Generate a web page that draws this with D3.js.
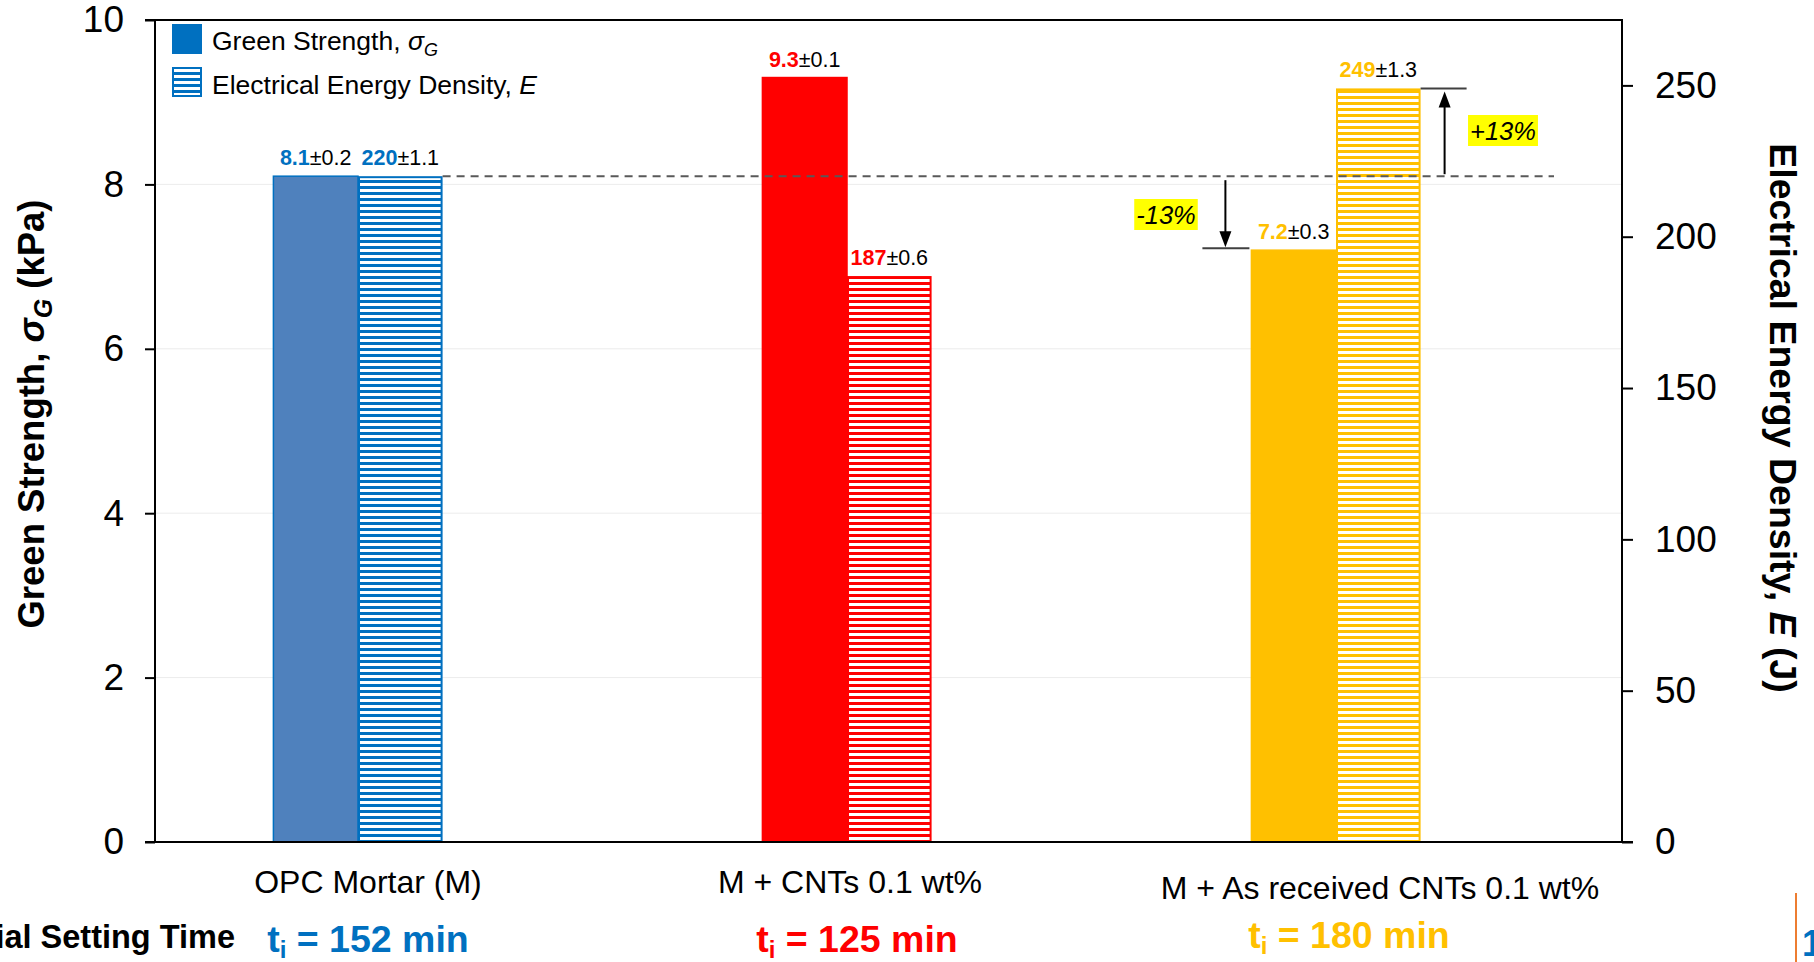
<!DOCTYPE html>
<html>
<head>
<meta charset="utf-8">
<script src="https://cdn.jsdelivr.net/npm/d3@7"></script>
<style>
  html, body { margin: 0; padding: 0; background: #fff; overflow: hidden; }
  svg { display: block; font-family: "Liberation Sans", Arial, sans-serif; }
</style>
</head>
<body>
<div id="chart"></div>
<script>
// values
const categories = ["OPC Mortar (M)", "M + CNTs 0.1 wt%", "M + As received CNTs 0.1 wt%"];
const strength = [8.1, 9.3, 7.2];
const strengthErr = [0.2, 0.1, 0.3];
const energy = [220, 187, 249];
const energyErr = [1.1, 0.6, 1.3];
const settingTime = [152, 125, 180];
const leftTicks = [0, 2, 4, 6, 8, 10];
const rightTicks = [0, 50, 100, 150, 200, 250];
const changeLabels = ["-13%", "+13%"];

const colors = ["#0070C0", "#FF0000", "#FFC000"];
const solidFill = ["#4F81BD", "#FF0000", "#FFC000"];
// small nudges for the hand placed text boxes under the axis
const catLabelShift = [10, 3, 44];
const timeLabelShift = [10, 10, 13];

const W = 1814, H = 962;
const pLeft = 155, pRight = 1622, pTop = 20, pBottom = 842;

const svg = d3.select("#chart").append("svg").attr("width", W).attr("height", H);
const defs = svg.append("defs");

colors.forEach((c, i) => {
    const p = defs.append("pattern").attr("id", "hatch" + i)
        .attr("patternUnits", "userSpaceOnUse").attr("width", 8).attr("height", 6);
    p.append("rect").attr("width", 8).attr("height", 6).attr("fill", "#fff");
    p.append("rect").attr("y", 0).attr("width", 8).attr("height", 3).attr("fill", c);
});

const yL = d3.scaleLinear().domain([0, 10]).range([pBottom, pTop]);
// right axis is set so 8.1 kPa lines up with 220 J
const yR = d3.scaleLinear().domain([0, energy[0] / strength[0] * 10]).range([pBottom, pTop]);
const x = d3.scaleBand().domain(categories).range([113.5, 1580.5]);
const barW = x.bandwidth() * 0.173;

// gridlines
svg.append("g").selectAll("line").data(leftTicks.filter(t => t > 0 && t < 10)).enter().append("line")
    .attr("x1", pLeft).attr("x2", pRight)
    .attr("y1", d => yL(d)).attr("y2", d => yL(d))
    .attr("stroke", "#ececec").attr("stroke-width", 1);

// bars
const groups = svg.append("g").selectAll("g").data(categories).enter().append("g");
groups.append("rect")
    .attr("x", (d, i) => x(d) + x.bandwidth() / 2 - barW)
    .attr("y", (d, i) => yL(strength[i]))
    .attr("width", barW)
    .attr("height", (d, i) => pBottom - yL(strength[i]))
    .attr("fill", (d, i) => solidFill[i])
    .attr("stroke", (d, i) => colors[i]).attr("stroke-width", 1.5);
groups.append("rect")
    .attr("x", (d, i) => x(d) + x.bandwidth() / 2 + 1)
    .attr("y", (d, i) => yR(energy[i]) + 1)
    .attr("width", barW - 2)
    .attr("height", (d, i) => pBottom - yR(energy[i]) - 1)
    .attr("fill", (d, i) => "url(#hatch" + i + ")")
    .attr("stroke", (d, i) => colors[i]).attr("stroke-width", 2);

// value labels
function valueLabel(g, cx, yTop, val, err, col) {
    const t = g.append("text").attr("x", cx).attr("y", yTop - 11)
        .attr("text-anchor", "middle").attr("font-size", 21.5);
    t.append("tspan").attr("font-weight", "bold").attr("fill", col).text(val);
    t.append("tspan").attr("fill", "#000").text("±" + err);
}
groups.each(function (d, i) {
    const g = d3.select(this);
    const cx = x(d) + x.bandwidth() / 2;
    valueLabel(g, cx - barW / 2, yL(strength[i]), strength[i], strengthErr[i], colors[i]);
    valueLabel(g, cx + barW / 2, yR(energy[i]), energy[i], energyErr[i], colors[i]);
});

// reference dashed line at the mortar level
const refY = yL(strength[0]);
svg.append("line")
    .attr("x1", x(categories[0]) + x.bandwidth() / 2 + barW).attr("x2", 1554)
    .attr("y1", refY).attr("y2", refY)
    .attr("stroke", "#595959").attr("stroke-width", 2).attr("stroke-dasharray", "8,6");

// change arrows for the last group
const c3 = x(categories[2]) + x.bandwidth() / 2;
const downX = c3 - barW - 26, upX = c3 + barW + 24;
const lowY = yL(strength[2]) - 2, highY = yR(energy[2]);
svg.append("line").attr("x1", c3 - barW - 49).attr("x2", c3 - barW - 2)
    .attr("y1", lowY).attr("y2", lowY).attr("stroke", "#404040").attr("stroke-width", 2);
svg.append("line").attr("x1", c3 + barW).attr("x2", c3 + barW + 46)
    .attr("y1", highY).attr("y2", highY).attr("stroke", "#404040").attr("stroke-width", 2);
svg.append("line").attr("x1", downX).attr("x2", downX).attr("y1", refY + 4).attr("y2", lowY - 14)
    .attr("stroke", "#000").attr("stroke-width", 2);
svg.append("path").attr("d", `M${downX - 6},${lowY - 17}L${downX + 6},${lowY - 17}L${downX},${lowY - 1}Z`).attr("fill", "#000");
svg.append("line").attr("x1", upX).attr("x2", upX).attr("y1", refY - 2).attr("y2", highY + 16)
    .attr("stroke", "#000").attr("stroke-width", 2);
svg.append("path").attr("d", `M${upX - 6},${highY + 19}L${upX + 6},${highY + 19}L${upX},${highY + 3}Z`).attr("fill", "#000");

function tag(cx, cy, txt) {
    const g = svg.append("g");
    const t = g.append("text").attr("x", cx).attr("y", cy + 9).attr("text-anchor", "middle")
        .attr("font-size", 25.5).attr("font-style", "italic").text(txt);
    const b = t.node().getBBox();
    g.insert("rect", "text").attr("x", b.x - 2).attr("y", cy - 16).attr("width", b.width + 4).attr("height", 31)
        .attr("fill", "#FFFF00");
}
tag(1166, 215, changeLabels[0]);
tag(1503, 131, changeLabels[1]);

// axes
const axL = svg.append("g").attr("transform", `translate(${pLeft},0)`)
    .call(d3.axisLeft(yL).tickValues(leftTicks).tickSize(10).tickPadding(21).tickFormat(d3.format("d")));
const axR = svg.append("g").attr("transform", `translate(${pRight},0)`)
    .call(d3.axisRight(yR).tickValues(rightTicks).tickSize(11).tickPadding(22).tickFormat(d3.format("d")));
[axL, axR].forEach(a => {
    a.select(".domain").remove();
    a.selectAll("line").attr("stroke", "#000").attr("stroke-width", 2);
    a.selectAll("text").attr("font-size", 37).attr("fill", "#000")
        .attr("font-family", "'Liberation Sans', Arial, sans-serif");
});
svg.append("line").attr("x1", pLeft).attr("x2", pLeft).attr("y1", pTop - 1).attr("y2", pBottom + 1)
    .attr("stroke", "#000").attr("stroke-width", 2);
svg.append("line").attr("x1", pRight).attr("x2", pRight).attr("y1", pTop - 1).attr("y2", pBottom + 1)
    .attr("stroke", "#000").attr("stroke-width", 2);
svg.append("line").attr("x1", pLeft - 10).attr("x2", pRight).attr("y1", pTop).attr("y2", pTop)
    .attr("stroke", "#000").attr("stroke-width", 2);
svg.append("line").attr("x1", pLeft - 10).attr("x2", pRight + 11).attr("y1", pBottom).attr("y2", pBottom)
    .attr("stroke", "#000").attr("stroke-width", 2);

// category labels and setting times
svg.append("g").selectAll("text").data(categories).enter().append("text")
    .attr("x", (d, i) => x(d) + x.bandwidth() / 2 + catLabelShift[i])
    .attr("y", (d, i) => i === 2 ? 899 : 893)
    .attr("text-anchor", "middle").attr("font-size", 32).attr("fill", "#000")
    .text(d => d);

const tl = svg.append("g").selectAll("text").data(categories).enter().append("text")
    .attr("x", (d, i) => x(d) + x.bandwidth() / 2 + timeLabelShift[i])
    .attr("y", (d, i) => i === 2 ? 948 : 952)
    .attr("text-anchor", "middle").attr("font-size", 37.5).attr("font-weight", "bold")
    .attr("fill", (d, i) => colors[i]);
tl.append("tspan").text("t");
tl.append("tspan").attr("font-size", 24).attr("dy", 6).text("i");
tl.append("tspan").attr("dy", -6).text((d, i) => " = " + settingTime[i] + " min");

svg.append("text").attr("x", 235).attr("y", 948).attr("text-anchor", "end")
    .attr("font-size", 32.5).attr("font-weight", "bold").text("Initial Setting Time");

// axis titles
const tL = svg.append("text").attr("transform", "translate(44,414) rotate(-90)")
    .attr("text-anchor", "middle").attr("font-size", 36.5).attr("font-weight", "bold");
tL.append("tspan").text("Green Strength, ");
tL.append("tspan").attr("font-style", "italic").text("σ");
tL.append("tspan").attr("font-size", 25).attr("dy", 8).attr("font-style", "italic").text("G");
tL.append("tspan").attr("dy", -8).text(" (kPa)");

const tR = svg.append("text").attr("transform", "translate(1770,418) rotate(90)")
    .attr("text-anchor", "middle").attr("font-size", 37.5).attr("font-weight", "bold");
tR.append("tspan").text("Electrical Energy Density, ");
tR.append("tspan").attr("font-style", "italic").text("E");
tR.append("tspan").text(" (J)");

// legend
const lg = svg.append("g");
lg.append("rect").attr("x", 172).attr("y", 24).attr("width", 30).attr("height", 30).attr("fill", colors[0]);
lg.append("rect").attr("x", 173).attr("y", 68).attr("width", 28).attr("height", 28)
    .attr("fill", "url(#hatch0)").attr("stroke", colors[0]).attr("stroke-width", 2);
const l1 = lg.append("text").attr("x", 212).attr("y", 50).attr("font-size", 26.5);
l1.append("tspan").text("Green Strength, ");
l1.append("tspan").attr("font-style", "italic").text("σ");
l1.append("tspan").attr("font-style", "italic").attr("font-size", 18).attr("dy", 6).text("G");
const l2 = lg.append("text").attr("x", 212).attr("y", 94).attr("font-size", 26.5);
l2.append("tspan").text("Electrical Energy Density, ");
l2.append("tspan").attr("font-style", "italic").text("E");

// clipped page furniture at the bottom right
svg.append("line").attr("x1", 1796).attr("x2", 1796).attr("y1", 893).attr("y2", 962)
    .attr("stroke", "#ED7D31").attr("stroke-width", 2);
svg.append("text").attr("x", 1802).attr("y", 956).attr("font-size", 36).attr("font-weight", "bold")
    .attr("fill", "#0070C0").text("1");
</script>
</body>
</html>
